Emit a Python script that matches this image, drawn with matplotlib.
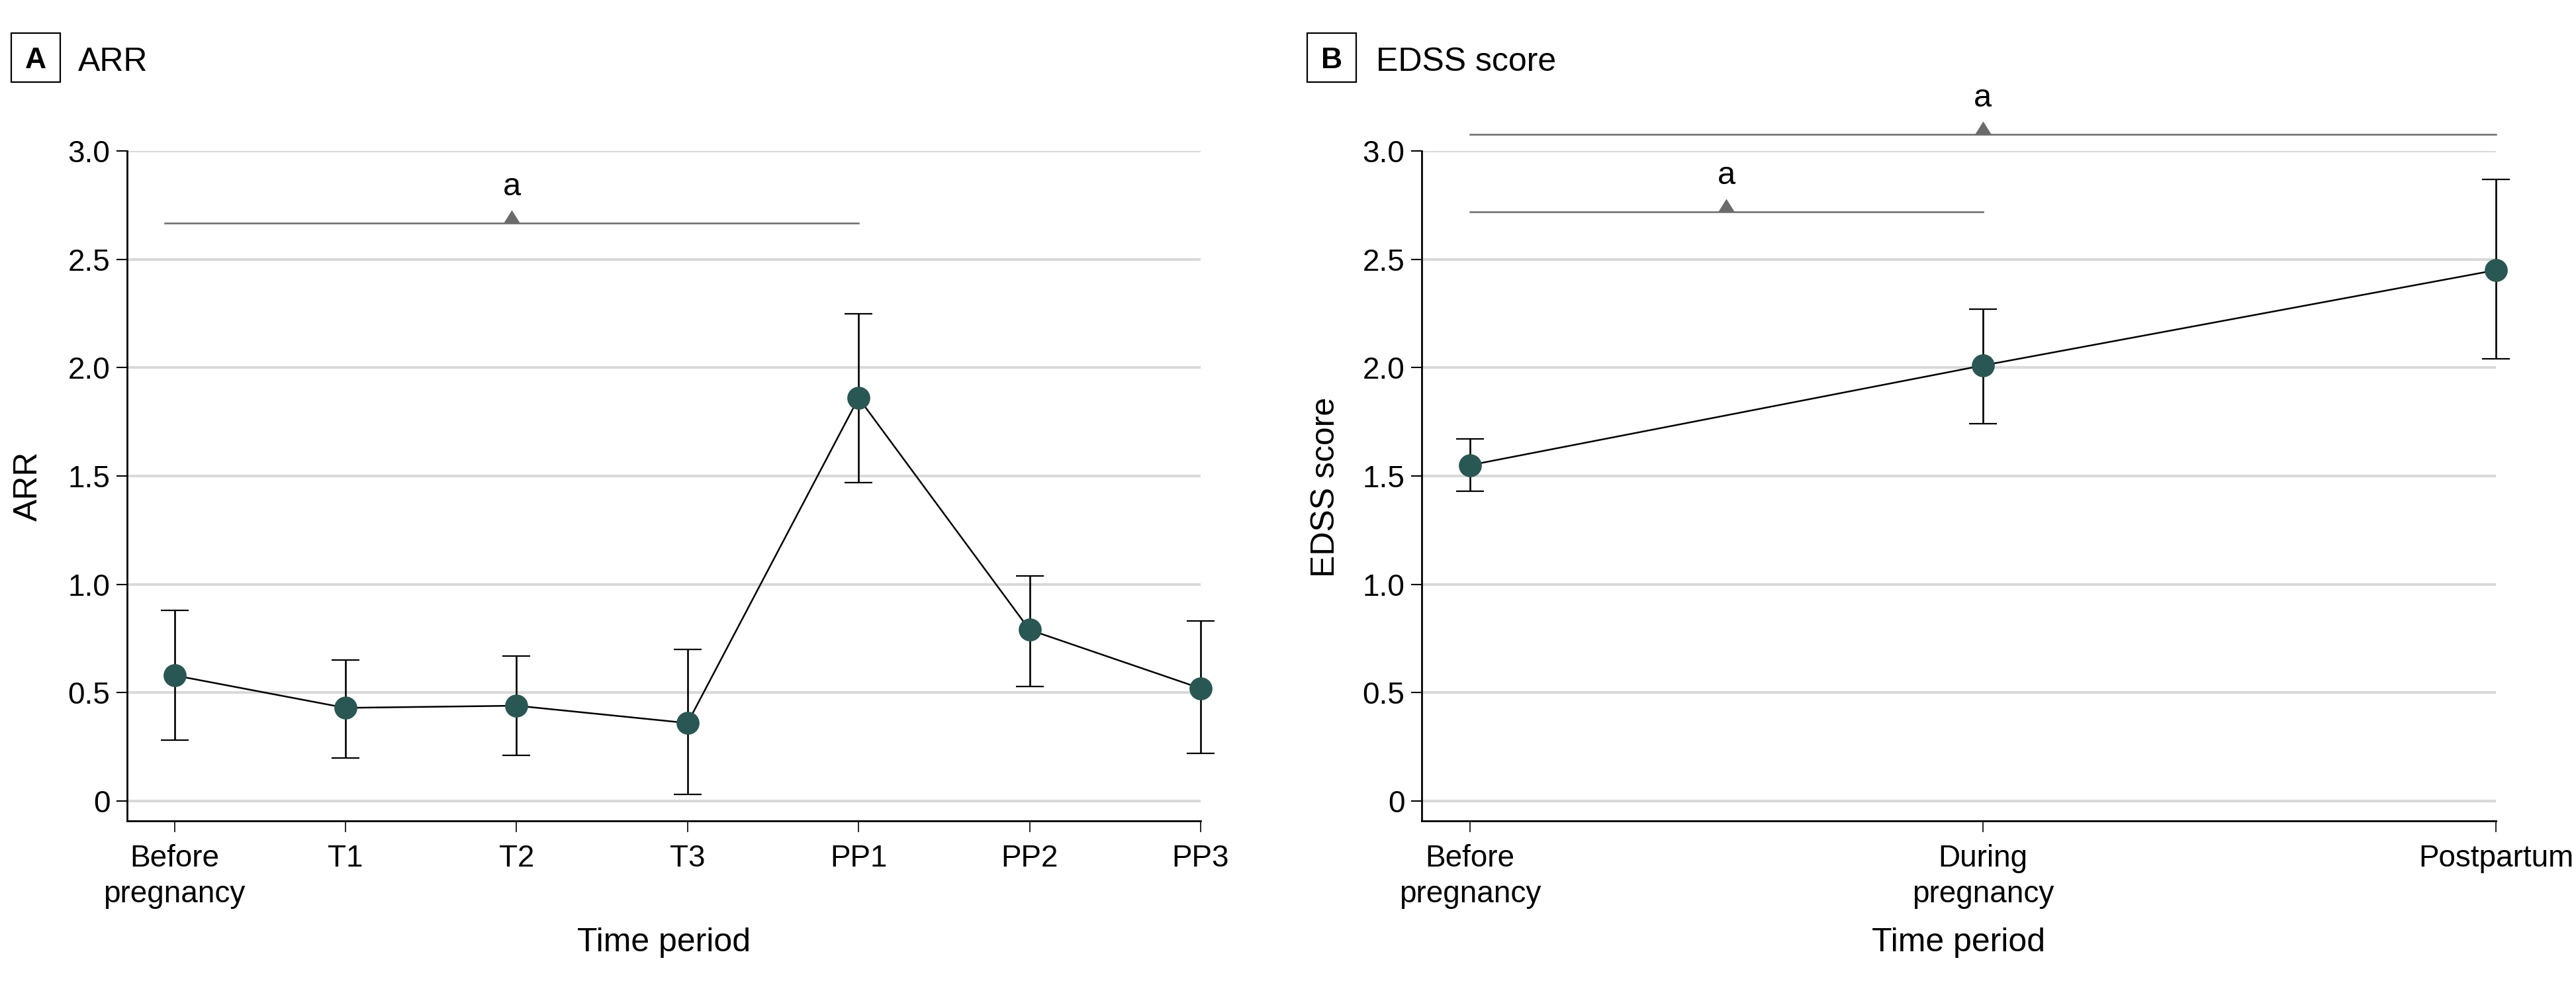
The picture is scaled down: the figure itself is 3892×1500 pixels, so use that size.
import matplotlib
matplotlib.use("Agg")
import matplotlib.pyplot as plt
from matplotlib.patches import Rectangle
import numpy as np

plt.rcParams["font.family"] = ["Liberation Sans", "DejaVu Sans"]

# Panel A: annualized relapse rate
arr_labels = ["Before\npregnancy", "T1", "T2", "T3", "PP1", "PP2", "PP3"]
arr_mean = [0.58, 0.43, 0.44, 0.36, 1.86, 0.79, 0.52]
arr_low = [0.28, 0.20, 0.21, 0.03, 1.47, 0.53, 0.22]
arr_high = [0.88, 0.65, 0.67, 0.70, 2.25, 1.04, 0.83]
arr_sig = [(0, 4)]

# Panel B: EDSS score
edss_labels = ["Before\npregnancy", "During\npregnancy", "Postpartum"]
edss_mean = [1.55, 2.01, 2.45]
edss_low = [1.43, 1.74, 2.04]
edss_high = [1.67, 2.27, 2.87]
edss_sig = [(0, 1), (0, 2)]

y_ticks = [0, 0.5, 1.0, 1.5, 2.0, 2.5, 3.0]
y_tick_labels = ["0", "0.5", "1.0", "1.5", "2.0", "2.5", "3.0"]

W, H = 3892, 1500
DOT = "#295754"
SIG = "#6b6b6b"
GRID = "#d9d9d9"

fig = plt.figure(figsize=(W / 100, H / 100), dpi=100)

# triangle marker with its base on the anchor point
tri = [(-0.625, 0), (0.625, 0), (0, 1), (-0.625, 0)]


def draw_panel(ax, labels, mean, low, high, sig, sig_levels, xmin):
    x = np.arange(len(labels))
    mean = np.array(mean)
    yerr = [mean - np.array(low), np.array(high) - mean]

    ax.set_xlim(xmin, len(labels) - 1)
    ax.set_ylim(-0.0915, 3.0)
    ax.set_yticks(y_ticks)
    ax.set_yticklabels(y_tick_labels)
    ax.set_xticks(x)
    ax.set_xticklabels(labels, linespacing=1.3)
    ax.yaxis.grid(True, color=GRID, linewidth=2.9, zorder=0)
    ax.set_axisbelow(True)

    for side in ["top", "right"]:
        ax.spines[side].set_visible(False)
    for side in ["left", "bottom"]:
        ax.spines[side].set_linewidth(2.0)
    ax.tick_params(axis="y", length=11.5, width=1.5, pad=7, labelsize=33)
    ax.tick_params(axis="x", length=12, width=1.2, pad=13, labelsize=33)

    ax.plot(x, mean, color="black", linewidth=1.8, zorder=3, clip_on=False)
    eb = ax.errorbar(x, mean, yerr=yerr, fmt="none", ecolor="black",
                     elinewidth=1.9, capsize=15, capthick=1.6, zorder=4)
    for art in eb.lines[1] + eb.lines[2]:
        art.set_clip_on(False)
    ax.plot(x, mean, "o", color=DOT, markersize=25, markeredgewidth=0,
            zorder=5, clip_on=False)

    for (a, b), lvl in zip(sig, sig_levels):
        start = a - 0.055 if len(labels) > 3 else a
        ax.plot([start, b], [lvl, lvl], color=SIG, linewidth=1.8,
                clip_on=False, zorder=2)
        mid = (start + b) / 2
        ax.plot([mid], [lvl], marker=tri, color=SIG, markersize=28.8,
                markeredgewidth=0, clip_on=False, zorder=2)
        ax.annotate("a", (mid, lvl), xytext=(0, 30), textcoords="offset points",
                    ha="center", va="baseline", fontsize=35,
                    annotation_clip=False)

    ax.set_xlabel("Time period", fontsize=36, labelpad=20)
    return ax


bottom = 1 - 1240 / H
height = 1012 / H

ax1 = fig.add_axes([192 / W, bottom, 1622 / W, height])
draw_panel(ax1, arr_labels, arr_mean, arr_low, arr_high, arr_sig, [2.668],
           -0.277)
ax2 = fig.add_axes([2148 / W, bottom, 1623 / W, height])
draw_panel(ax2, edss_labels, edss_mean, edss_low, edss_high, edss_sig,
           [2.72, 3.076], -0.094)

# y axis labels
fig.text(43 / W, 1 - 734 / H, "ARR", rotation=90, ha="center", va="center",
         fontsize=36)
fig.text(2003 / W, 1 - 736 / H, "EDSS score", rotation=90, ha="center",
         va="center", fontsize=36)

# panel titles with boxed letters
for bx, letter, tx, title in [(17, "A", 118, "ARR"), (1975, "B", 2079, "EDSS score")]:
    fig.patches.append(Rectangle((bx / W, 1 - 124 / H), 74 / W, 74 / H,
                                 transform=fig.transFigure, fill=False,
                                 edgecolor="black", linewidth=1.6))
    fig.text((bx + 37) / W, 1 - 103 / H, letter, ha="center", va="baseline",
             fontsize=32, fontweight="bold")
    fig.text(tx / W, 1 - 107 / H, title, ha="left", va="baseline", fontsize=36)

fig.savefig("out.png", dpi=100, facecolor="white")
